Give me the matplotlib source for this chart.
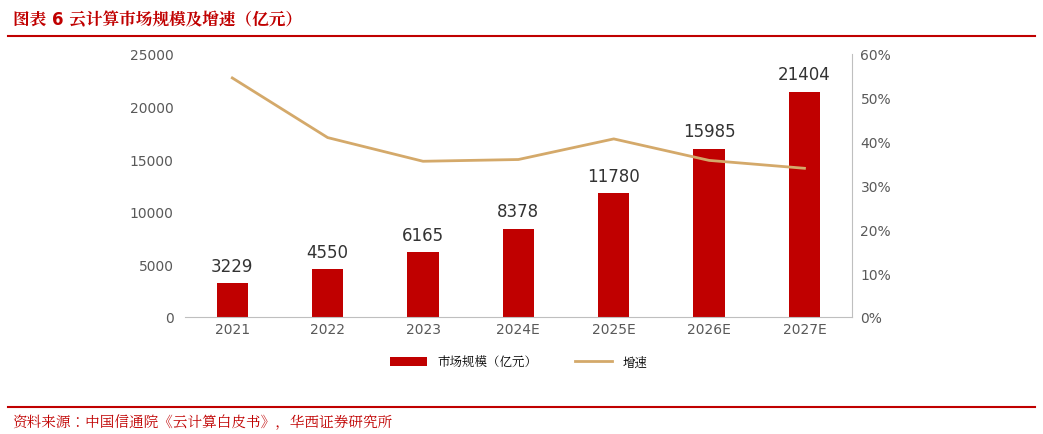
import matplotlib.pyplot as plt
from matplotlib import font_manager
from matplotlib.ticker import PercentFormatter
import numpy as np

cjk = [f.name for f in font_manager.fontManager.ttflist if 'CJK' in f.name]
cjk_name = cjk[0] if cjk else 'Noto Sans CJK SC'
for n in cjk:
    if n.endswith('SC'):
        cjk_name = n
plt.rcParams['font.family'] = ['DejaVu Sans', cjk_name]

years = ['2021', '2022', '2023', '2024E', '2025E', '2026E', '2027E']
market_size = [3229, 4550, 6165, 8378, 11780, 15985, 21404]
growth = [54.5, 40.9, 35.5, 35.9, 40.6, 35.7, 33.9]

red = '#C00000'
gold = '#D4A96A'
grey = '#595959'

fig = plt.figure(figsize=(10.43, 4.35), dpi=100)
ax = fig.add_axes([0.177, 0.269, 0.64, 0.605])
x = np.arange(len(years))
bars = ax.bar(x, market_size, width=0.33, color=red, label='市场规模（亿元）')
for r, v in zip(bars, market_size):
    ax.annotate(str(v), xy=(r.get_x() + r.get_width() / 2, v), xytext=(0, 6),
                textcoords='offset points', ha='center', va='bottom', fontsize=12, color='#333333')
ax.set_ylim(0, 25000)
ax.set_yticks(range(0, 25001, 5000))
ax.set_xlim(-0.5, len(years) - 0.5)
ax.set_xticks(x)
ax.set_xticklabels(years)
ax.tick_params(colors=grey, labelsize=10, length=0)
ax.tick_params(axis='y', pad=8)
for s in ['top', 'left', 'right']:
    ax.spines[s].set_visible(False)
ax.spines['bottom'].set_color('#BFBFBF')

ax2 = ax.twinx()
line, = ax2.plot(x, growth, color=gold, lw=2, label='增速')
ax2.set_ylim(0, 60)
ax2.set_yticks(range(0, 61, 10))
ax2.yaxis.set_major_formatter(PercentFormatter(decimals=0))
ax2.tick_params(colors=grey, labelsize=10, length=0, pad=6)
for s in ['top', 'left', 'bottom']:
    ax2.spines[s].set_visible(False)
ax2.spines['right'].set_color('#BFBFBF')

fig.legend([bars, line], ['市场规模（亿元）', '增速'], loc='center', bbox_to_anchor=(0.497, 0.165),
           ncol=2, frameon=False, fontsize=9, handlelength=3, columnspacing=3)

fig.text(0.012, 0.955, '图表 6 云计算市场规模及增速（亿元）', color=red, fontsize=12,
         fontweight='bold', va='center')
fig.add_artist(plt.Line2D([0.008, 0.992], [0.915, 0.915], color=red, lw=1.5))
fig.add_artist(plt.Line2D([0.008, 0.992], [0.062, 0.062], color=red, lw=1.5))
fig.text(0.012, 0.03, '资料来源：中国信通院《云计算白皮书》，华西证券研究所', color=red, fontsize=10.5, va='center')

fig.savefig('out.png', dpi=100)
